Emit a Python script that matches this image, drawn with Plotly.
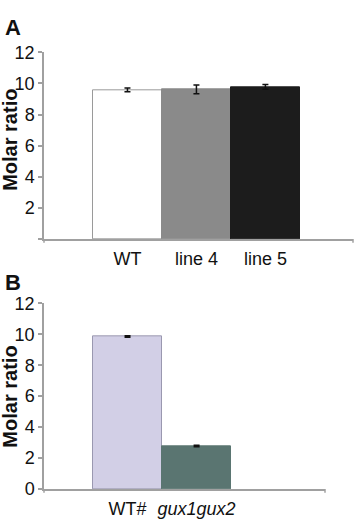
import plotly.graph_objects as go

# Panel A data
cats_a = ["WT", "line 4", "line 5"]
vals_a = [9.58, 9.62, 9.78]
errs_a = [0.12, 0.28, 0.15]
colors_a = ["#ffffff", "#8a8a8a", "#1c1c1c"]
borders_a = ["#9a9a9a", "#8a8a8a", "#1c1c1c"]

# Panel B data
cats_b = ["WT#", "<i>gux1gux2</i>"]
vals_b = [9.86, 2.78]
errs_b = [0.05, 0.05]
colors_b = ["#d2cfe6", "#5a7571"]
borders_b = ["#9a98b0", "#5a7571"]

ytick_vals = [0, 2, 4, 6, 8, 10, 12]
ytick_text_a = ["", "2", "4", "6", "8", "10", "12"]
ytick_text_b = ["0", "2", "4", "6", "8", "10", "12"]

W, H = 358, 523
FONT = "Liberation Sans, Arial, sans-serif"
AXC = "#a0a0a0"

fig = go.Figure()
fig.add_trace(go.Bar(
    x=list(range(len(cats_a))), y=vals_a, width=1.0,
    marker=dict(color=colors_a, line=dict(color=borders_a, width=1)),
    error_y=dict(type="data", array=errs_a, color="#111", thickness=1.5, width=3),
    xaxis="x", yaxis="y", showlegend=False))
fig.add_trace(go.Bar(
    x=list(range(len(cats_b))), y=vals_b, width=1.0,
    marker=dict(color=colors_b, line=dict(color=borders_b, width=1)),
    error_y=dict(type="data", array=errs_b, color="#111", thickness=1.5, width=3),
    xaxis="x2", yaxis="y2", showlegend=False))

def xax(domain, rng, cats, anchor):
    return dict(domain=domain, range=rng, anchor=anchor,
                tickvals=list(range(len(cats))), ticktext=cats,
                ticks="outside", ticklen=3, tickcolor="rgba(0,0,0,0)",
                showline=True, linecolor=AXC, linewidth=1.5,
                showgrid=False, zeroline=False,
                tickfont=dict(family=FONT, size=18, color="#111"))

def yax(domain, text, anchor):
    return dict(domain=domain, range=[0, 12], anchor=anchor,
                tickvals=ytick_vals, ticktext=text,
                ticks="outside", ticklen=4, tickcolor=AXC, tickwidth=1.5,
                showline=True, linecolor=AXC, linewidth=1.5,
                showgrid=False, zeroline=False,
                tickfont=dict(family=FONT, size=18, color="#111"))

fig.update_layout(
    width=W, height=H, margin=dict(l=0, r=0, t=0, b=0),
    paper_bgcolor="white", plot_bgcolor="white", bargap=0,
    xaxis=xax([44 / W, 353 / W], [-1.21, 3.27], cats_a, "y"),
    yaxis=yax([1 - 238 / H, 1 - 44 / H], ytick_text_a, "x"),
    xaxis2=xax([44 / W, 325 / W], [-1.21, 2.86], cats_b, "y2"),
    yaxis2=yax([1 - 498 / H, 1 - 305 / H], ytick_text_b, "x2"),
)

# end ticks of x axes
for xd, yr in [("x domain", "y domain"), ("x2 domain", "y2 domain")]:
    for xv in [0, 1]:
        fig.add_shape(type="line", xref=xd, yref=yr, x0=xv, x1=xv, y0=0, y1=-0.02,
                      line=dict(color=AXC, width=1.5))

anns = [
    dict(text="<b>A</b>", x=3 / W, y=1 - 3 / H, xanchor="left", yanchor="top", size=22, angle=0),
    dict(text="<b>B</b>", x=3 / W, y=1 - 268 / H, xanchor="left", yanchor="top", size=22, angle=0),
    dict(text="<b>Molar ratio</b>", x=10 / W, y=1 - 135 / H, xanchor="center", yanchor="middle", size=20, angle=-90),
    dict(text="<b>Molar ratio</b>", x=10 / W, y=1 - 402 / H, xanchor="center", yanchor="middle", size=20, angle=-90),
]
for a in anns:
    fig.add_annotation(text=a["text"], x=a["x"], y=a["y"], xref="paper", yref="paper",
                       xanchor=a["xanchor"], yanchor=a["yanchor"], showarrow=False,
                       textangle=a["angle"], font=dict(family=FONT, size=a["size"], color="#111"))

fig.write_html("out.html", config={"responsive": False, "displayModeBar": False},
               post_script="document.body.style.margin='0';document.body.style.padding='0';")
